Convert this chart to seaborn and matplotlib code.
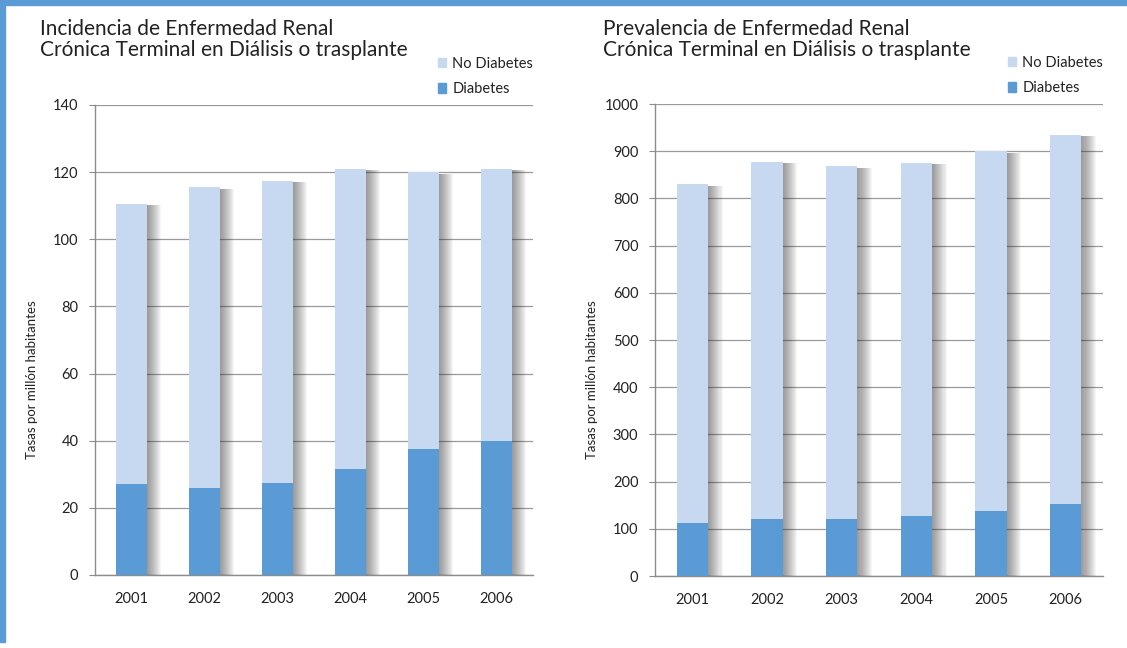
import matplotlib
matplotlib.use('Agg')
import matplotlib.pyplot as plt
import matplotlib.patheffects as pe
from matplotlib.patches import Rectangle, Patch
import seaborn as sns

# datos
years = ['2001', '2002', '2003', '2004', '2005', '2006']
inc_total = [110.5, 115.5, 117.5, 121, 120, 121]
inc_diab = [27, 26, 27.5, 31.5, 37.5, 40]
prev_total = [830, 878, 868, 876, 900, 935]
prev_diab = [113, 120, 120, 128, 137, 153]

titles = ['Incidencia de Enfermedad Renal\nCrónica Terminal en Diálisis o trasplante',
          'Prevalencia de Enfermedad Renal\nCrónica Terminal en Diálisis o trasplante']
ylabel = 'Tasas por millón habitantes'

light = '#c6d9f0'
dark = '#5b9bd5'
border = '#5b9bd5'

sns.set_style('white')
plt.rcParams['font.family'] = ['Lato', 'DejaVu Sans']

fig = plt.figure(figsize=(11.27, 6.48), dpi=100)
fig.patch.set_facecolor('white')

# marco azul
fig.patches.append(Rectangle((0, 0.992), 1, 0.008, transform=fig.transFigure,
                             color=border, zorder=0))
fig.patches.append(Rectangle((0, 0.01), 0.004, 0.99, transform=fig.transFigure,
                             color=border, zorder=0))

axes_pos = [[0.0843, 0.1127, 0.3887, 0.7253],
            [0.5812, 0.1111, 0.3975, 0.7284]]
datasets = [(inc_total, inc_diab, 140, 20), (prev_total, prev_diab, 1000, 100)]
title_x = [40, 603]
ylab_x = [32, 592]

# sombra difusa a la derecha de las barras
shadow = [pe.SimplePatchShadow(offset=(o * 0.75, -1), shadow_rgbFace='#333333',
                               alpha=0.045)
          for o in range(14, 0, -1)]

for i in range(2):
    ax = fig.add_axes(axes_pos[i])
    total, diab, ymax, step = datasets[i]
    sns.barplot(x=years, y=total, color=light, width=0.42, ax=ax,
                saturation=1, zorder=3, linewidth=0)
    sns.barplot(x=years, y=diab, color=dark, width=0.42, ax=ax,
                saturation=1, zorder=4, linewidth=0)
    for p in ax.patches[:len(years)]:
        p.set_path_effects(shadow + [pe.Normal()])
    ax.set_ylim(0, ymax)
    ax.set_yticks(range(0, ymax + 1, step))
    ax.set_xlim(-0.5, 5.5)
    ax.yaxis.grid(True, color='#9a9a9a', lw=0.9, zorder=0)
    ax.set_axisbelow(True)
    for s in ['top', 'right']:
        ax.spines[s].set_visible(False)
    for s in ['left', 'bottom']:
        ax.spines[s].set_color('#8c8c8c')
        ax.spines[s].set_linewidth(1)
    ax.set_xticks([x + 0.5 for x in range(-1, 6)], minor=True)
    ax.tick_params(axis='x', which='major', length=0, pad=12, labelsize=10.5,
                   colors='#222222')
    ax.tick_params(axis='x', which='minor', length=4, color='#8c8c8c', width=1)
    ax.tick_params(axis='y', length=4, color='#8c8c8c', pad=8, labelsize=10.5,
                   colors='#222222', left=True)
    ax.set_xlabel('')
    ax.set_ylabel('')
    fig.text(ylab_x[i] / 1127, 1 - 380 / 648, ylabel, rotation=90, ha='center',
             va='center', fontsize=9.5, color='#222222')
    fig.text(title_x[i] / 1127, 1 - 19 / 648, titles[i], ha='left', va='top',
             fontsize=15, color='#222222', linespacing=1.05)
    handles = [Patch(color=light), Patch(color=dark)]
    ax.legend(handles, ['No Diabetes', 'Diabetes'], loc='lower right',
              bbox_to_anchor=(1.02, 1.0), frameon=False, fontsize=10.5,
              handlelength=0.6, handleheight=0.6, handletextpad=0.4,
              labelspacing=0.8, borderaxespad=0.2, labelcolor='#222222')

fig.savefig('out.png', dpi=100)
